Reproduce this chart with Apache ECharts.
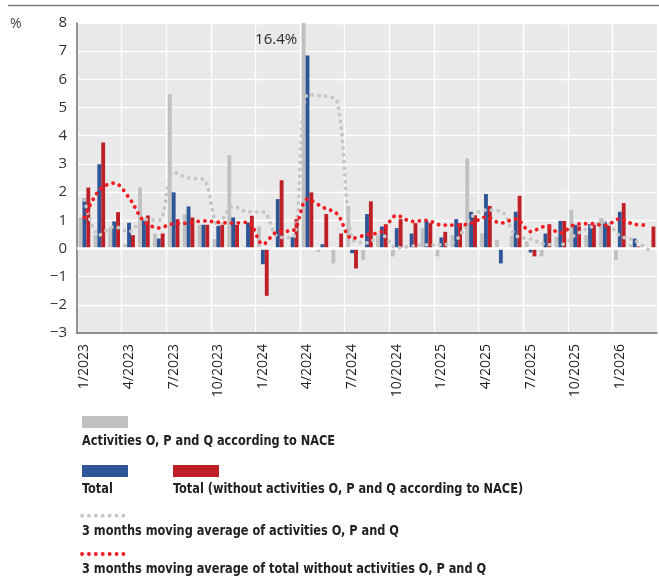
<!DOCTYPE html>
<html lang="en">
<head>
    <meta charset="UTF-8">
    <title>Monthly change</title>
    <script type="text/javascript" src="https://cdn.jsdelivr.net/npm/echarts@6/dist/echarts.min.js"></script>
    <style>
        html, body {margin: 0; padding: 0; background: #fff;}
    </style>
</head>
<body>
<div id="div_echars" style="width: 659px;height:586px;"></div>
<script type="text/javascript">
    // months 1/2023 .. 3/2026
    var months = ['1/2023', '2/2023', '3/2023', '4/2023', '5/2023', '6/2023', '7/2023', '8/2023', '9/2023', '10/2023', '11/2023', '12/2023',
        '1/2024', '2/2024', '3/2024', '4/2024', '5/2024', '6/2024', '7/2024', '8/2024', '9/2024', '10/2024', '11/2024', '12/2024',
        '1/2025', '2/2025', '3/2025', '4/2025', '5/2025', '6/2025', '7/2025', '8/2025', '9/2025', '10/2025', '11/2025', '12/2025',
        '1/2026', '2/2026', '3/2026'];

    // activities O, P and Q according to NACE (gray bars)
    var opq = [1.1, 0.47, 0.74, 0.15, 2.17, 0.53, 5.47, 1.22, 0.84, 0.33, 3.31, 0.07,
        0.79, 0.0, 0.0, 16.4, -0.12, -0.53, 1.51, -0.41, 0.43, -0.28, -0.03, 0.72,
        -0.28, 0.47, 3.19, 0.54, 0.3, 0.47, 0.25, -0.28, 0.41, 1.36, 0.47, 1.08,
        -0.4, 0.15, -0.04];

    // total (blue bars)
    var total = [1.78, 2.99, 0.96, 0.91, 1.0, 0.35, 1.99, 1.49, 0.84, 0.8, 1.1, 0.92,
        -0.56, 1.75, 0.4, 6.85, 0.15, 0.02, -0.17, 1.22, 0.78, 0.72, 0.53, 0.98,
        0.39, 1.04, 1.3, 1.93, -0.53, 1.3, -0.14, 0.53, 0.98, 0.84, 0.86, 0.95,
        1.3, 0.35, -0.02];

    // total without activities O, P and Q (red bars)
    var totalWithout = [2.16, 3.76, 1.29, 0.47, 1.17, 0.53, 1.04, 1.1, 0.84, 0.84, 0.84, 1.16,
        -1.68, 2.42, 1.04, 1.99, 1.22, 0.53, -0.71, 1.67, 0.86, 1.04, 0.9, 0.9,
        0.59, 0.9, 1.18, 1.51, 0.02, 1.87, -0.28, 0.86, 0.98, 0.78, 0.84, 0.83,
        1.61, 0.07, 0.78];

    // 3 months moving average of activities O, P and Q (gray dots)
    var opqAvg = [1.72, 0.48, 0.77, 0.6, 1.02, 1.0, 2.7, 2.5, 2.45, 0.82, 1.5, 1.3,
        1.3, 0.42, 0.38, 5.45, 5.42, 5.2, 0.35, 0.2, 0.47, 0.02, 0.08, 0.13,
        0.13, 0.3, 1.1, 1.36, 1.32, 0.47, 0.33, 0.15, 0.13, 0.48, 0.75, 0.95,
        0.45, 0.28, -0.08];

    // 3 months moving average of total without O, P and Q (red dots)
    var withoutAvg = [1.1, 2.07, 2.32, 1.8, 0.97, 0.73, 0.88, 0.9, 0.98, 0.93, 0.9, 0.93,
        0.15, 0.6, 0.63, 1.75, 1.47, 1.22, 0.36, 0.49, 0.6, 1.17, 0.96, 1.0,
        0.83, 0.83, 0.89, 1.11, 0.9, 1.05, 0.6, 0.78, 0.55, 0.85, 0.88, 0.82,
        1.05, 0.85, 0.83];

    var yTicks = [-3, -2, -1, 0, 1, 2, 3, 4, 5, 6, 7, 8];

    var names = ['Activities O, P and Q according to NACE', 'Total',
        'Total (without activities O, P and Q according to NACE)',
        '3 months moving average of activities O, P and Q',
        '3 months moving average of total without activities O, P and Q'];

    var colGray = '#c1c1c1', colBlue = '#2e5596', colRed = '#bf1f27';
    var dotGray = '#c6c6c6', dotRed = '#f01c22';
    var legendFont = 'bold 14px "DejaVu Sans Condensed", sans-serif';

    // legend text, squeezed a bit to the narrow face of the original
    function legendText(x, y, txt) {
        return {type: 'text', x: x, y: y, scaleX: 0.9,
            style: {text: txt, font: legendFont, fill: '#222', textVerticalAlign: 'middle'}};
    }

    // the value that runs off the top of the axis
    var peakIndex = opq.indexOf(Math.max.apply(null, opq));

    var myChart = echarts.init(document.getElementById('div_echars'));

    var option = {
        animation: false,
        grid: {
            left: 77, top: 23, width: 580, height: 310,
            show: true, backgroundColor: '#e9e9e9', borderWidth: 0
        },
        xAxis: {
            type: 'category',
            data: months,
            position: 'bottom',
            axisLine: {onZero: false, lineStyle: {color: '#6e6e6e', width: 1.5}},
            axisTick: {show: false},
            axisLabel: {
                interval: 2, rotate: 90, margin: 11,
                color: '#222', fontSize: 14, fontFamily: '"Open Sans", sans-serif'
            },
            splitLine: {show: true, interval: 2, lineStyle: {color: '#ffffff', width: 1.3}}
        },
        yAxis: {
            type: 'value',
            min: yTicks[0], max: yTicks[yTicks.length - 1], interval: 1,
            axisLine: {show: true, lineStyle: {color: '#6e6e6e', width: 1.5}},
            axisTick: {show: false},
            axisLabel: {
                margin: 10, color: '#333', fontSize: 15, fontFamily: '"Open Sans", sans-serif',
                formatter: function (v) { return v < 0 ? '\u2212' + Math.abs(v) : '' + v; }
            },
            splitLine: {lineStyle: {color: '#ffffff', width: 1.3}}
        },
        series: [
            {
                name: names[0], type: 'bar', data: opq,
                barGap: '0%', barCategoryGap: '22%',
                itemStyle: {color: colGray},
                markLine: {
                    silent: true, symbol: 'none', label: {show: false},
                    lineStyle: {color: '#ffffff', width: 2.5, type: 'solid'},
                    data: [{yAxis: 0}]
                },
                markPoint: {
                    symbol: 'circle', symbolSize: 1, itemStyle: {color: 'rgba(0,0,0,0)'},
                    label: {
                        show: true, position: 'left', distance: 6,
                        color: '#2a2a2a', fontSize: 15, fontFamily: '"Open Sans", sans-serif',
                        formatter: function () { return opq[peakIndex] + '%'; }
                    },
                    data: [{coord: [peakIndex, 7.42]}]
                }
            },
            {
                name: names[1], type: 'bar', data: total,
                itemStyle: {color: colBlue}
            },
            {
                name: names[2], type: 'bar', data: totalWithout,
                itemStyle: {color: colRed}
            },
            {
                name: names[3], type: 'line', data: opqAvg,
                smooth: 0.35, showSymbol: false, z: 5,
                lineStyle: {color: dotGray, width: 3.8, type: [0.1, 6.6], cap: 'round'}
            },
            {
                name: names[4], type: 'line', data: withoutAvg,
                smooth: 0.35, showSymbol: false, z: 6,
                lineStyle: {color: dotRed, width: 3.8, type: [0.1, 6.6], cap: 'round'}
            }
        ],
        graphic: [
            // rule at the top and the unit
            {type: 'line', shape: {x1: 8, y1: 5.5, x2: 659, y2: 5.5}, style: {stroke: '#7a7a7a', lineWidth: 1.5}},
            {type: 'text', x: 10, y: 24, style: {text: '%', font: '14px "Open Sans", sans-serif', fill: '#444', textVerticalAlign: 'middle'}},

            // legend
            {type: 'rect', shape: {x: 82, y: 416, width: 46, height: 12}, style: {fill: colGray}},
            legendText(82, 441, names[0]),
            {type: 'rect', shape: {x: 82, y: 465, width: 46, height: 12}, style: {fill: colBlue}},
            legendText(82, 489.5, names[1]),
            {type: 'rect', shape: {x: 173, y: 465, width: 46, height: 12}, style: {fill: colRed}},
            legendText(173, 489.5, names[2]),
            {type: 'line', shape: {x1: 82, y1: 515.7, x2: 130, y2: 515.7},
                style: {stroke: dotGray, lineWidth: 3.8, lineDash: [0.1, 6.8], lineCap: 'round'}},
            legendText(82, 531, names[3]),
            {type: 'line', shape: {x1: 82, y1: 554, x2: 130, y2: 554},
                style: {stroke: dotRed, lineWidth: 3.8, lineDash: [0.1, 6.8], lineCap: 'round'}},
            legendText(82, 569, names[4])
        ]
    };

    myChart.setOption(option);
</script>
</body>
</html>
